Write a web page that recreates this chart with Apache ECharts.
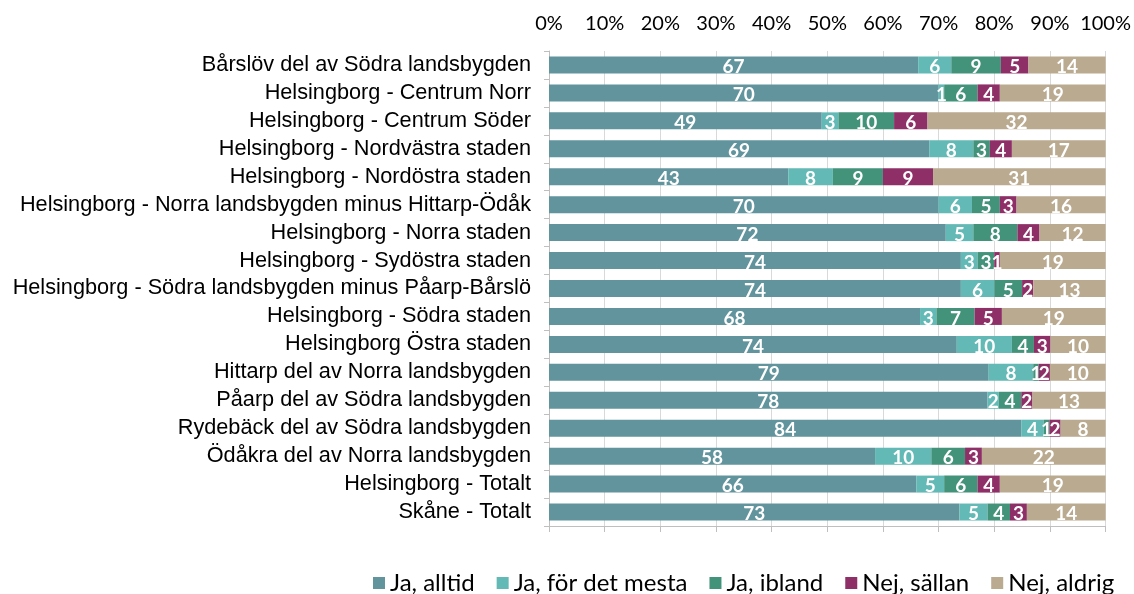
<!DOCTYPE html>
<html>
<head>
<meta charset="utf-8">
<script src="https://cdn.jsdelivr.net/npm/echarts@6/dist/echarts.min.js"></script>
<style>html,body{margin:0;padding:0;background:#fff}#c{width:1134px;height:594px}</style>
</head>
<body>
<div id="c"></div>
<script>
const categories = [
  "Bårslöv del av Södra landsbygden",
  "Helsingborg - Centrum Norr",
  "Helsingborg - Centrum Söder",
  "Helsingborg - Nordvästra staden",
  "Helsingborg - Nordöstra staden",
  "Helsingborg - Norra landsbygden minus Hittarp-Ödåk",
  "Helsingborg - Norra staden",
  "Helsingborg - Sydöstra staden",
  "Helsingborg - Södra landsbygden minus Påarp-Bårslö",
  "Helsingborg - Södra staden",
  "Helsingborg Östra staden",
  "Hittarp del av Norra landsbygden",
  "Påarp del av Södra landsbygden",
  "Rydebäck del av Södra landsbygden",
  "Ödåkra del av Norra landsbygden",
  "Helsingborg - Totalt",
  "Skåne - Totalt"
];
const seriesNames = ["Ja, alltid", "Ja, för det mesta", "Ja, ibland", "Nej, sällan", "Nej, aldrig"];
const jaAlltid     = [67,70,49,69,43,70,72,74,74,68,74,79,78,84,58,66,73];
const jaMesta      = [6,1,3,8,8,6,5,3,6,3,10,8,2,4,10,5,5];
const jaIbland     = [9,6,10,3,9,5,8,3,5,7,4,1,4,1,6,6,4];
const nejSallan    = [5,4,6,4,9,3,4,1,2,5,3,2,2,2,3,4,3];
const nejAldrig    = [14,19,32,17,31,16,12,19,13,19,10,10,13,8,22,19,14];
const tickLabels   = ["0%","10%","20%","30%","40%","50%","60%","70%","80%","90%","100%"];
const colors = ["#62949e", "#62b9b5", "#43927a", "#8f2f67", "#baaa90"];

const raw = [jaAlltid, jaMesta, jaIbland, nejSallan, nejAldrig];
const totals = categories.map((_, i) => raw.reduce((s, arr) => s + arr[i], 0));

const series = raw.map((arr, k) => ({
  name: seriesNames[k],
  type: 'bar',
  stack: 'total',
  barWidth: 17,
  xAxisIndex: 0,
  itemStyle: { color: colors[k] },
  label: {
    show: true,
    position: 'inside',
    offset: [0, 2],
    color: '#fff',
    fontFamily: 'Lato',
    fontWeight: 'bold',
    fontSize: 19,
    formatter: p => String(arr[p.dataIndex])
  },
  data: arr.map((v, i) => v / totals[i] * 100)
}));

const chart = echarts.init(document.getElementById('c'), null, { renderer: 'canvas' });
chart.setOption({
  animation: false,
  color: colors,
  grid: { left: 549, right: 28, top: 51, bottom: 68, containLabel: false },
  legend: {
    top: 571,
    left: 373,
    itemWidth: 12,
    itemHeight: 12,
    itemGap: 22,
    padding: 0,
    icon: 'rect',
    textStyle: { fontFamily: 'Lato', fontSize: 24, color: '#000' },
    data: seriesNames
  },
  xAxis: [{
    type: 'value',
    position: 'top',
    min: 0, max: 100, interval: 10,
    axisLine: { show: false },
    axisTick: { show: false },
    axisLabel: {
      margin: 17,
      fontFamily: 'Lato', fontSize: 20, color: '#000',
      formatter: v => tickLabels[Math.round(v / 10)]
    },
    splitLine: { show: true, lineStyle: { color: '#d9d9d9', width: 1 } }
  }, {
    type: 'value',
    position: 'bottom',
    min: 0, max: 100, interval: 10,
    axisLine: { show: true, onZero: false, lineStyle: { color: '#bfbfbf' } },
    axisTick: { show: true, length: 6, inside: false, lineStyle: { color: '#bfbfbf' } },
    axisLabel: { show: false },
    splitLine: { show: false }
  }],
  yAxis: {
    type: 'category',
    inverse: true,
    data: categories,
    axisLine: { show: true, lineStyle: { color: '#bfbfbf' } },
    axisTick: { show: true, length: 5, lineStyle: { color: '#bfbfbf' } },
    axisLabel: { interval: 0, margin: 18, fontFamily: 'Liberation Sans', fontSize: 21.7, color: '#000' }
  },
  series: series
});
</script>
</body>
</html>
